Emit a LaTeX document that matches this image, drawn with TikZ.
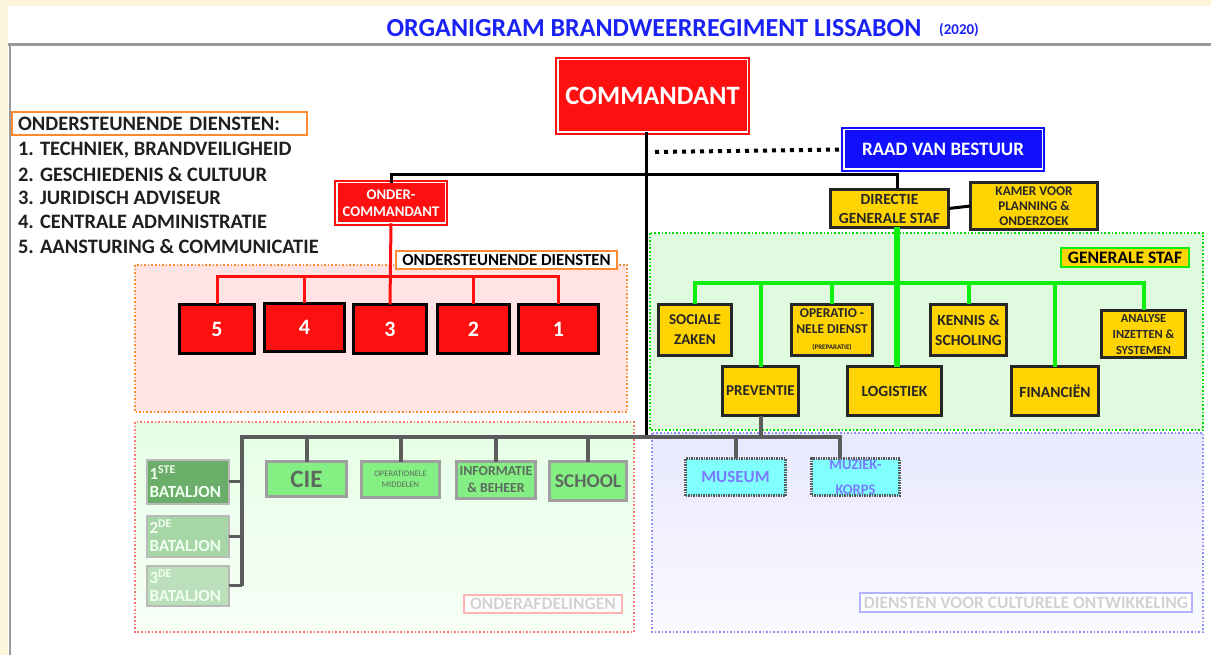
\documentclass[tikz,border=0pt]{standalone}
\usepackage{fontspec}
\setmainfont{Carlito}
\definecolor{beige}{HTML}{FDF4DC}
\definecolor{ttl}{HTML}{1A22F5}
\definecolor{rd}{HTML}{FF1010}
\definecolor{rb}{HTML}{1010FF}
\definecolor{ylw}{HTML}{FFD400}
\definecolor{gbus}{HTML}{10EE10}
\definecolor{gry}{HTML}{5C5C5C}
\definecolor{orng}{HTML}{FF8A30}
\definecolor{pinkf}{HTML}{FFE3E5}
\definecolor{greenf}{HTML}{E0FAE0}
\definecolor{gbox}{HTML}{84F084}
\definecolor{gtxt}{HTML}{5E6A5E}
\definecolor{cyanf}{HTML}{80FFFF}
\definecolor{ctxt}{HTML}{7A7AFF}
\definecolor{batA}{HTML}{6AAE6A}
\definecolor{batB}{HTML}{A6D6A6}
\definecolor{batC}{HTML}{BADFBA}
\begin{document}
\begin{tikzpicture}[x=1pt,y=-1pt,
  every node/.style={inner sep=0pt, outer sep=0pt},
  dbl/.style={draw=#1, fill=#1, line width=2pt, double=white, double distance=1.5pt, text=white, align=center},
  redbox/.style={draw=black, fill=rd, line width=2.5pt, text=white, font=\bfseries\fontsize{22}{24}\selectfont},
  ybox/.style={draw=black!85, fill=ylw, line width=2.5pt, align=center, text=black!85},
  gbx/.style={draw=gray!75, fill=gbox, line width=2.5pt, align=center, text=gtxt},
  batbox/.style={draw=gray!55, fill=#1, line width=2pt, align=left, text=white!94!green, font=\bfseries\fontsize{17}{18}\selectfont, text width=76pt, inner xsep=3pt},
  cbox/.style={draw=gray!70!black, fill=cyanf, line width=2.5pt, dash pattern=on 1.5pt off 1pt, align=center, text=ctxt},
  lbl/.style={draw=#1, fill=white, line width=1.6pt, font=\bfseries\fontsize{17.5}{19}\selectfont},
  ltxt/.style={anchor=west, font=\bfseries\fontsize{20.5}{22}\selectfont, text=black!88},
  blk/.style={draw=black, line width=3pt},
  redl/.style={draw=rd, line width=3pt},
  grnl/.style={draw=gbus, line width=4pt},
  gryl/.style={draw=gry, line width=4pt}
]
\useasboundingbox (0,0) rectangle (1211,655);
% frame
\fill[beige] (0,0) rectangle (1211,655);
\fill[white] (8,6) rectangle (1211,655);
\draw[gray!80, line width=3pt] (8,44.5) -- (1211,44.5);
\draw[gray!80, line width=2pt] (9.5,44) -- (9.5,655);

% title
\node[text=ttl, font=\bfseries\fontsize{26}{28}\selectfont] (title) at (654,28) {ORGANIGRAM BRANDWEERREGIMENT LISSABON};
\node[text=ttl, font=\bfseries\fontsize{15}{16}\selectfont] (year) at (959,30) {(2020)};

% regions
\fill[pinkf] (135,265) rectangle (627,412);
\draw[orng, line width=1.6pt, dotted] (135,265) rectangle (627,412);
\shade[top color=green!10!white, bottom color=white!97!green] (135,422) rectangle (634,632);
\draw[red!55, line width=1.6pt, dotted] (135,422) rectangle (634,632);
\fill[greenf] (650,233) rectangle (1203,430);
\draw[green!85!black, line width=1.6pt, dotted] (650,233) rectangle (1203,430);
\shade[top color=blue!9!white, bottom color=blue!2!white] (652,433) rectangle (1203,632);
\draw[blue!45, line width=1.6pt, dotted] (652,433) rectangle (1203,632);

% left list
\node[draw=orng, line width=2pt, anchor=west, text width=283pt, inner xsep=6pt, minimum height=23pt, align=left, font=\bfseries\fontsize{20.5}{22}\selectfont, text=black!88] (ldh) at (12,124) {ONDERSTEUNENDE DIENSTEN:};
\node[ltxt] (l1) at (18,150) {1. TECHNIEK, BRANDVEILIGHEID};
\node[ltxt] (l2) at (18,174) {2. GESCHIEDENIS \& CULTUUR};
\node[ltxt] (l3) at (18,198) {3. JURIDISCH ADVISEUR};
\node[ltxt] (l4) at (18,222) {4. CENTRALE ADMINISTRATIE};
\node[ltxt] (l5) at (18,246) {5. AANSTURING \& COMMUNICATIE};

% top nodes
\node[dbl=rd, minimum width=189.5pt, minimum height=72.5pt, font=\bfseries\fontsize{26.5}{28}\selectfont] (com) at (652.5,96) {COMMANDANT};
\node[dbl=rb, minimum width=198.5pt, minimum height=39.5pt, font=\bfseries\fontsize{19}{21}\selectfont] (raad) at (943,149.5) {RAAD VAN BESTUUR};
\node[dbl=rd, minimum width=108.5pt, minimum height=40.5pt, font=\bfseries\fontsize{14.7}{17}\selectfont] (ond) at (391,203) {ONDER-\\COMMANDANT};

% yellow
\node[ybox, minimum width=118pt, minimum height=38pt, font=\bfseries\fontsize{15.5}{19}\selectfont] (dir) at (889.5,208.5) {DIRECTIE\\GENERALE STAF};
\node[ybox, minimum width=127pt, minimum height=47pt, font=\bfseries\fontsize{13.3}{15}\selectfont] (kam) at (1034,206) {KAMER VOOR\\PLANNING \&\\ONDERZOEK};
\node[ybox, minimum width=73pt, minimum height=51pt, font=\bfseries\fontsize{15}{20}\selectfont] (soc) at (695,330) {SOCIALE\\ZAKEN};
\node[ybox, minimum width=81pt, minimum height=51pt, font=\bfseries\fontsize{13.5}{16}\selectfont] (ope) at (832,330) {OPERATIO -\\NELE DIENST\\{\fontsize{7}{9}\selectfont (PREPARATIE)}};
\node[ybox, minimum width=76pt, minimum height=51pt, font=\bfseries\fontsize{15.5}{20}\selectfont] (ken) at (968.5,330) {KENNIS \&\\SCHOLING};
\node[ybox, minimum width=84pt, minimum height=47pt, font=\bfseries\fontsize{12.4}{16}\selectfont] (ana) at (1143.5,334) {ANALYSE\\INZETTEN \&\\SYSTEMEN};
\node[ybox, minimum width=76pt, minimum height=49pt, font=\bfseries\fontsize{15}{17}\selectfont] (pre) at (760.5,391) {PREVENTIE};
\node[ybox, minimum width=94pt, minimum height=49pt, font=\bfseries\fontsize{15.5}{17}\selectfont] (log) at (894.5,391) {LOGISTIEK};
\node[ybox, minimum width=87pt, minimum height=49pt, font=\bfseries\fontsize{15.5}{17}\selectfont] (fin) at (1055,391) {FINANCIËN};
\node[lbl=gbus, fill=ylw, minimum width=128pt, minimum height=19pt] (lgs) at (1125,257.5) {GENERALE STAF};

% red services
\node[lbl=orng, minimum width=221pt, minimum height=18pt, font=\bfseries\fontsize{16.8}{18}\selectfont] (lod) at (506.5,260) {ONDERSTEUNENDE DIENSTEN};
\node[redbox, minimum width=75pt, minimum height=49pt] (b5) at (217,329) {5};
\node[redbox, minimum width=80pt, minimum height=48pt] (b4) at (304.5,327.5) {4};
\node[redbox, minimum width=73pt, minimum height=49pt] (b3) at (390,329) {3};
\node[redbox, minimum width=72pt, minimum height=49pt] (b2) at (473.5,329) {2};
\node[redbox, minimum width=80pt, minimum height=49pt] (b1) at (558.5,329) {1};

% green units
\node[gbx, minimum width=80pt, minimum height=35pt, font=\bfseries\fontsize{25}{27}\selectfont] (cie) at (306.5,479) {CIE};
\node[gbx, minimum width=78pt, minimum height=36pt, font=\fontsize{8.5}{11}\selectfont] (omi) at (400.5,479.5) {OPERATIONELE\\MIDDELEN};
\node[gbx, minimum width=79pt, minimum height=37pt, font=\bfseries\fontsize{13.8}{17}\selectfont] (inf) at (496,480) {INFORMATIE\\\& BEHEER};
\node[gbx, minimum width=77pt, minimum height=39pt, font=\bfseries\fontsize{19.5}{21}\selectfont] (sch) at (588,481) {SCHOOL};
\node[batbox=batA, minimum height=44pt] (bat1) at (187.5,481.5) {1\textsuperscript{STE}\\BATALJON};
\node[batbox=batB, minimum height=41pt] (bat2) at (187.5,536) {2\textsuperscript{DE}\\BATALJON};
\node[batbox=batC, minimum height=40pt] (bat3) at (187.5,585.5) {3\textsuperscript{DE}\\BATALJON};
\node[lbl=red!30, minimum width=158pt, minimum height=18pt, text=gray!35] (lon) at (543,604) {ONDERAFDELINGEN};

% culture
\node[cbox, minimum width=100pt, minimum height=37pt, font=\bfseries\fontsize{17}{19}\selectfont] (mus) at (735.5,477) {MUSEUM};
\node[cbox, minimum width=88pt, minimum height=37pt, font=\bfseries\fontsize{14.5}{25}\selectfont] (muz) at (855.5,477) {MUZIEK-\\KORPS};
\node[lbl=blue!30, minimum width=332pt, minimum height=19pt, text=gray!35] (ldc) at (1026,602.5) {DIENSTEN VOOR CULTURELE ONTWIKKELING};

% connector points
\coordinate (cj) at (646,437);
\coordinate (dj) at (897,175);
\coordinate (dots) at (655,152);
\coordinate (rbj) at (390,277);
\coordinate (gbj) at (897,283);
\coordinate (glj) at (242,437);
\coordinate (mzj) at (840,437);

% black connectors
\draw[blk] (com.south -| cj) -- (cj);
\draw[blk] (ond.north) |- (dj) -- (dj |- dir.north);
\draw[black, line width=4pt, dash pattern=on 4pt off 5pt] (dots) -- (raad.west) ;
\draw[blk] (dir.east) -- (kam.west);

% red connectors
\draw[redl] (ond.south) -- (b3.north);
\draw[redl] (b5.north) -- (b5.north |- rbj) -- (b1.north |- rbj) -- (b1.north);
\draw[redl] (b4.north) -- (b4.north |- rbj);
\draw[redl] (b2.north) -- (b2.north |- rbj);

% green connectors
\draw[grnl, line width=5.5pt] (dir.south -| gbj) -- (log.north -| gbj);
\draw[grnl] (soc.north) -- (soc.north |- gbj) -- (ana.north |- gbj) -- (ana.north);
\draw[grnl] (pre.north) -- (pre.north |- gbj);
\draw[grnl] (ope.north) -- (ope.north |- gbj);
\draw[grnl] (ken.north) -- (ken.north |- gbj);
\draw[grnl] (fin.north) -- (fin.north |- gbj);

% gray connectors
\draw[gryl] (pre.south) -- (pre.south |- glj);
\draw[gryl] (bat3.east -| glj) -- (glj) -- (mzj) -- (mzj |- muz.north);
\draw[gryl] (mus.north) -- (mus.north |- glj);
\draw[gryl] (cie.north) -- (cie.north |- glj);
\draw[gryl] (omi.north) -- (omi.north |- glj);
\draw[gryl] (inf.north) -- (inf.north |- glj);
\draw[gryl] (sch.north) -- (sch.north |- glj);
\draw[gryl, line width=3pt] (bat1.east) -- (bat1.east -| glj);
\draw[gryl, line width=3pt] (bat2.east) -- (bat2.east -| glj);
\draw[gryl, line width=3pt] (bat3.east) -- (bat3.east -| glj);
\end{tikzpicture}
\end{document}
